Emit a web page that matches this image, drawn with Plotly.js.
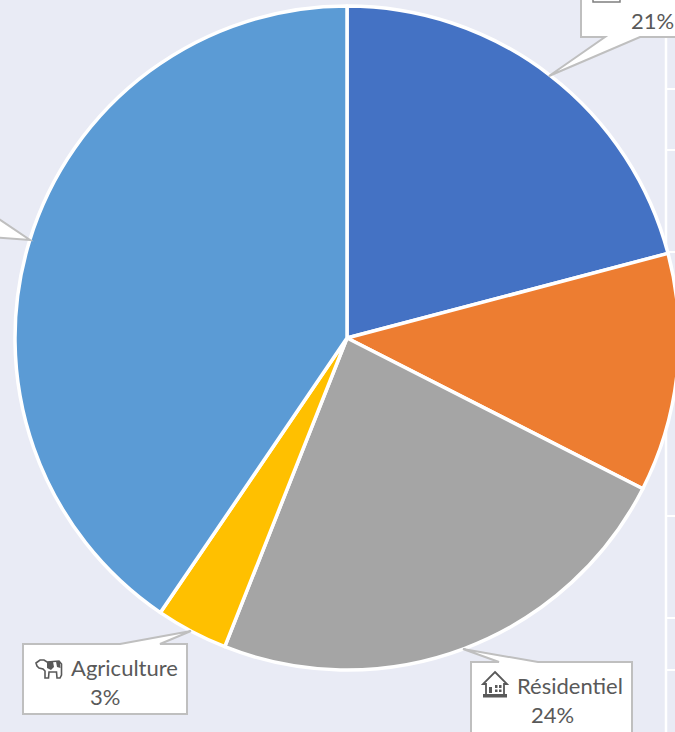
<!DOCTYPE html>
<html>
<head>
<meta charset="utf-8">
<script src="https://cdn.plot.ly/plotly-3.0.1.min.js"></script>
<style>html,body{margin:0;padding:0;width:675px;height:732px;overflow:hidden;background:#E9EBF5}</style>
</head>
<body>
<div id="chart"></div>
<script>
var categories = ['Tertiaire', 'Industrie', 'Résidentiel', 'Agriculture', 'Transports'];
var values = [20.9, 11.6, 23.5, 3.5, 40.5];
var sliceColors = ['#4472C4', '#ED7D31', '#A5A5A5', '#FFC000', '#5B9BD5'];
var gridRows = [89, 150, 252, 516, 618, 670];

var W = 700, H = 732;
var BG = '#E9EBF5', BORDER = '#BFBFBF', TEXT = '#595959';
function X(p) { return p / W; }
function Y(p) { return 1 - p / H; }
function pathOf(pts, close) {
  return pts.map(function (p, i) { return (i ? 'L' : 'M') + X(p[0]).toFixed(5) + ',' + Y(p[1]).toFixed(5); }).join(' ') + (close ? ' Z' : '');
}
function rawPath(str) {
  return str.replace(/(-?[\d.]+) (-?[\d.]+)/g, function (_, a, b) {
    return X(+a).toFixed(5) + ',' + Y(+b).toFixed(5);
  });
}
var shapes = [];
shapes.push({type: 'line', xref: 'paper', yref: 'paper', layer: 'below', x0: X(666), x1: X(666), y0: Y(38), y1: Y(732), line: {color: '#FFFFFF', width: 2.5}});
gridRows.forEach(function (r) {
  shapes.push({type: 'line', xref: 'paper', yref: 'paper', layer: 'below', x0: X(666), x1: X(700), y0: Y(r), y1: Y(r), line: {color: '#FFFFFF', width: 2}});
});
function callout(pts) {
  shapes.push({type: 'path', xref: 'paper', yref: 'paper', layer: 'above', path: pathOf(pts, true), fillcolor: '#FFFFFF', line: {color: BORDER, width: 2}});
}
callout([[581, -10], [581, 37], [605, 37], [549, 76], [640, 37], [700, 37], [700, -10]]);
callout([[-10, 213], [30, 240], [-10, 237]]);
callout([[23, 644], [120, 644], [191, 631], [160, 644], [187, 644], [187, 714], [23, 714]]);
callout([[471, 662], [499, 662], [463, 649], [538, 662], [632, 662], [632, 745], [471, 745]]);
shapes.push({type: 'path', xref: 'paper', yref: 'paper', layer: 'above', path: pathOf([[593, -6], [593, 2], [620, 2], [620, -6]], false), line: {color: '#7F7F7F', width: 1.5}});
// cow icon
shapes.push({type: 'path', xref: 'paper', yref: 'paper', layer: 'above', fillcolor: '#FFFFFF', line: {color: '#595959', width: 1.6},
  path: rawPath('M 36 663 L 40 660 L 44 660 L 47 662 L 59 661 L 61.5 664 L 61.5 675 L 60 678 L 57 678 L 56.5 672 L 49 672 L 48.5 678 L 45 678 L 45 671 L 43 669 L 39 668 L 37 666 Z')});
shapes.push({type: 'path', xref: 'paper', yref: 'paper', layer: 'above', fillcolor: '#595959', line: {width: 0},
  path: rawPath('M 47 662 L 53 661.5 L 54 667 L 51 670 L 47 668 Z M 56 661.5 L 60 662 L 60.5 668 L 57 667 Z')});
// house icon
shapes.push({type: 'path', xref: 'paper', yref: 'paper', layer: 'above', fillcolor: '#FFFFFF', line: {color: '#595959', width: 1.8},
  path: rawPath('M 495 672 L 507 684 L 504 684 L 504 695 L 486 695 L 486 684 L 483 684 Z')});
shapes.push({type: 'path', xref: 'paper', yref: 'paper', layer: 'above', fillcolor: '#595959', line: {width: 0},
  path: rawPath('M 483 694 L 507 694 L 507 697.5 L 483 697.5 Z M 489 687 L 492 687 L 492 693 L 489 693 Z M 495 685 L 497.5 685 L 497.5 688 L 495 688 Z M 499 685 L 501.5 685 L 501.5 688 L 499 688 Z M 495 689.5 L 497.5 689.5 L 497.5 692 L 495 692 Z M 499 689.5 L 501.5 689.5 L 501.5 692 L 499 692 Z')});

function note(text, cx, cy) {
  return {text: text, xref: 'paper', yref: 'paper', x: X(cx), y: Y(cy), xanchor: 'center', yanchor: 'middle', showarrow: false,
    font: {family: 'Lato, "Open Sans", sans-serif', size: 22, color: TEXT}};
}
var annotations = [
  note('21%', 652, 20),
  note('Agriculture', 124.5, 667),
  note('3%', 105, 696),
  note('Résidentiel', 569.5, 685),
  note('24%', 552, 714)
];

Plotly.newPlot('chart', [{
  type: 'pie',
  labels: categories,
  values: values,
  sort: false,
  direction: 'clockwise',
  rotation: 0,
  textinfo: 'none',
  hoverinfo: 'none',
  automargin: false,
  marker: {colors: sliceColors, line: {color: '#FFFFFF', width: 3.5}},
  domain: {x: [X(15), X(679)], y: [Y(670), Y(6)]}
}], {
  width: W,
  height: H,
  margin: {l: 0, r: 0, t: 0, b: 0},
  paper_bgcolor: BG,
  plot_bgcolor: BG,
  showlegend: false,
  shapes: shapes,
  annotations: annotations
}, {displayModeBar: false, staticPlot: true});
</script>
</body>
</html>
